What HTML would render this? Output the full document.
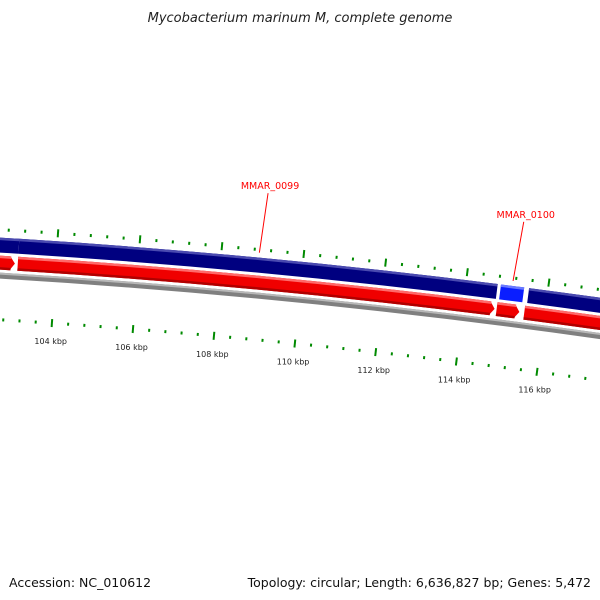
<!DOCTYPE html>
<html><head><meta charset="utf-8"><style>
html,body{margin:0;padding:0;background:#fff;}
svg{display:block;font-family:"DejaVu Sans","Liberation Sans",sans-serif;}
</style></head><body>
<svg id="map" width="600" height="600" viewBox="0 0 600 600" xmlns="http://www.w3.org/2000/svg">
<text x="300" y="22" text-anchor="middle" font-size="13" font-style="italic" fill="#222">Mycobacterium marinum M, complete genome</text>
<g id="rings"></g>
<text x="9" y="587" font-size="12.5" fill="#111">Accession: NC_010612</text>
<text x="591" y="587" text-anchor="end" font-size="12.5" fill="#111">Topology: circular; Length: 6,636,827 bp; Genes: 5,472</text>
</svg>
<script>
// data (kbp)
const labelKbp = [104,106,108,110,112,114,116];
const minorStepKbp = 0.4;
const fwdStart = [90, 103.07, 114.85, 115.54];
const fwdEnd   = [103.07, 114.77, 115.42, 130];
const fwdHighlight = [false, false, true, false];
const revStart = [90, 103.07, 114.82, 115.5];
const revEnd   = [103.0, 114.77, 115.38, 130];
const geneNames = ["MMAR_0099","MMAR_0100"];
const geneMid = [108.92, 115.13];

const cx=-454, cy=7799;
const A0=0.06757, K=0.005423;
const ang = kbp => A0 + (kbp-104)*K;
const pt = (r,a) => [cx + r*Math.sin(a), cy - r*Math.cos(a)];
const g = document.getElementById('rings');
const NS='http://www.w3.org/2000/svg';
function mk(tag, attrs){const e=document.createElementNS(NS,tag);for(const k in attrs)e.setAttribute(k,attrs[k]);g.appendChild(e);return e;}
function band(r1,r2,a1,a2,arrowLen){
  const rm=(r1+r2)/2, ah=arrowLen? arrowLen/rm:0;
  const p1=pt(r1,a1),p2=pt(r1,a2-ah),p3=pt(rm,a2),p4=pt(r2,a2-ah),p5=pt(r2,a1);
  return `M${p1} A${r1},${r1} 0 0 1 ${p2} L${p3} L${p4} A${r2},${r2} 0 0 0 ${p5} Z`;
}
// gradients
const defs=mk('defs',{});
// backbone
let e=mk('path',{d:band(7540,7534,ang(95),ang(125),0),fill:'#808080'});

e=mk('path',{d:band(7540,7538,ang(95),ang(125),0),fill:'#b8b8b8'});

// forward genes
for(let i=0;i<fwdStart.length;i++){
  e=mk('path',{d:band(7575,7560,ang(fwdStart[i]),ang(fwdEnd[i]),0),fill:fwdHighlight[i]?'#0a1eff':'#000080'});
  
  e=mk('path',{d:band(7575,7572.5,ang(fwdStart[i]),ang(fwdEnd[i]),0),fill:fwdHighlight[i]?'#6a7aff':'#4a4ab0'});
  
}
// reverse (red) genes
for(let i=0;i<revStart.length;i++){
  e=mk('path',{d:band(7557,7543,ang(revStart[i]),ang(revEnd[i]),5),fill:'#f00000'});
  
  e=mk('path',{d:band(7557,7554.5,ang(revStart[i]),ang(revEnd[i])-4/7550,0),fill:'#ff6a6a'});
  
  e=mk('path',{d:band(7545.5,7543,ang(revStart[i]),ang(revEnd[i])-4/7550,0),fill:'#b00000'});
  
}
// ticks
for(let k=100;k<=120.001;k+=minorStepKbp){
  const kk=Math.round(k*10)/10;
  const major=Math.abs(kk/2-Math.round(kk/2))<1e-6;
  const a=ang(kk);
  const o1=pt(major?7579:7581.5,a),o2=pt(major?7587:7584.5,a);
  e=mk('line',{x1:o1[0],y1:o1[1],x2:o2[0],y2:o2[1],stroke:'#008a00','stroke-width':2});
  
  const i1=pt(major?7489:7491.5,a),i2=pt(major?7497:7494.5,a);
  e=mk('line',{x1:i1[0],y1:i1[1],x2:i2[0],y2:i2[1],stroke:'#008a00','stroke-width':2});
  
}
labelKbp.forEach(k=>{
  const p=pt(7475,ang(k));
  e=mk('text',{x:p[0],y:p[1]+3,'text-anchor':'middle','font-size':8,fill:'#222'});
  e.textContent=k+' kbp';
  
});
geneNames.forEach((n,i)=>{
  const a=ang(geneMid[i]);
  const b=pt(7580,a), t=pt(7640,a+0.0004);
  e=mk('line',{x1:b[0],y1:b[1],x2:t[0],y2:t[1],stroke:'#ff0000','stroke-width':1});
  
  e=mk('text',{x:t[0]+2,y:t[1]-4,'text-anchor':'middle','font-size':9.5,fill:'#ff0000'});
  e.textContent=n;
  
});
</script>
</body></html>
